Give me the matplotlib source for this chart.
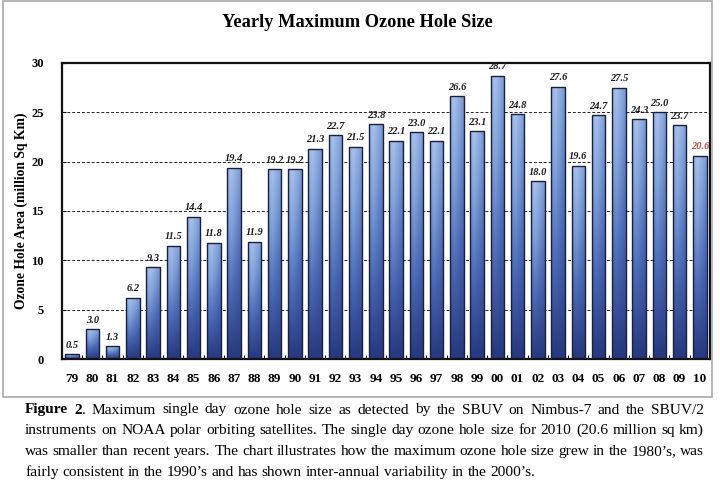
"""
Yearly maximum ozone hole size, SBUV bar chart with caption.
"""
import numpy as np
import matplotlib
matplotlib.use('Agg')
import matplotlib.pyplot as plt
from matplotlib.patches import Rectangle
from matplotlib.colors import LinearSegmentedColormap

# Data
years = ['79', '80', '81', '82', '83', '84', '85', '86', '87', '88', '89',
         '90', '91', '92', '93', '94', '95', '96', '97', '98', '99', '00',
         '01', '02', '03', '04', '05', '06', '07', '08', '09', '10']
area = [0.5, 3.0, 1.3, 6.2, 9.3, 11.5, 14.4, 11.8, 19.4, 11.9, 19.2,
        19.2, 21.3, 22.7, 21.5, 23.8, 22.1, 23.0, 22.1, 26.6, 23.1, 28.7,
        24.8, 18.0, 27.6, 19.6, 24.7, 27.5, 24.3, 25.0, 23.7, 20.6]
y_ticks = [0, 5, 10, 15, 20, 25, 30]

caption_lines = [
    'Figure 2. Maximum single day ozone hole size as detected by the SBUV on Nimbus-7 and the SBUV/2',
    'instruments on NOAA polar orbiting satellites.  The single day ozone hole size for 2010 (20.6 million sq km)',
    'was smaller than recent years. The chart illustrates how the maximum ozone hole size grew in the 1980\u2019s, was',
    'fairly consistent in the 1990\u2019s and has shown inter-annual variability in the 2000\u2019s.',
]
caption_bold = 'Figure 2'

SERIF = 'Liberation Serif'
plt.rcParams['font.family'] = SERIF

fig = plt.figure(figsize=(7.2, 4.8), dpi=100, facecolor='white')

# gray frame around the chart part
fig.patches.append(Rectangle((3 / 720, 83 / 480), 709 / 720, 396 / 480,
                             transform=fig.transFigure, fill=False,
                             edgecolor='#a8a8a8', lw=1.2))

ax = fig.add_axes([0.0861, 0.252, 0.9, 0.617])

x = np.arange(len(years))
bars = ax.bar(x, area, width=0.66, color='none', edgecolor='#1a1f3a',
              lw=1.0, zorder=3)

# gradient fill: light top -> dark bottom, darker toward the right edge
cmap = LinearSegmentedColormap.from_list(
    'ozone', ['#27397f', '#4a68b4', '#7e9fd8', '#a9c1ea'])
vert = np.linspace(0, 1, 64)[:, None]
horiz = np.concatenate([np.linspace(0.85, 1.0, 20), np.linspace(1.0, 0.6, 44)])[None, :]
grad = vert * horiz
for b in bars:
    x0, y0 = b.get_x(), b.get_y()
    w, h = b.get_width(), b.get_height()
    im = ax.imshow(grad, cmap=cmap, vmin=0, vmax=1, origin='lower',
                   extent=[x0, x0 + w, y0, y0 + h], aspect='auto', zorder=2)
    im.set_clip_path(b)

for i, (xi, v) in enumerate(zip(x, area)):
    color = '#c0504d' if i == len(area) - 1 else '#1a1a1a'
    ax.text(xi, v + 0.45, f'{v:.1f}', ha='center', va='bottom',
            fontsize=7.5, fontweight='bold', fontstyle='italic',
            color=color, zorder=4)

ax.set_xlim(-0.5, len(years) - 0.5)
ax.set_ylim(0, 30)
ax.set_yticks(y_ticks)
ax.set_xticks(x)
ax.set_xticklabels(years)
ax.set_xticks(np.arange(-0.5, len(years), 1.0), minor=True)
ax.tick_params(axis='x', which='major', length=0, pad=10, labelsize=9.5)
ax.tick_params(axis='x', which='minor', direction='in', length=3, width=0.8)
ax.tick_params(axis='y', direction='in', length=3, width=0.8, pad=13,
               labelsize=9)
for lbl in ax.get_xticklabels() + ax.get_yticklabels():
    lbl.set_fontweight('bold')

ax.yaxis.grid(True, linestyle=(0, (3, 2)), color='#222222', lw=0.7, zorder=1)
ax.set_axisbelow(True)
for s in ax.spines.values():
    s.set_linewidth(1.6)
    s.set_color('#111111')

ax.set_ylabel('Ozone Hole Area (million Sq Km)', fontsize=9.8,
              fontweight='bold')
ax.yaxis.set_label_coords(-0.053, 0.5)
fig.text(0.497, 0.953, 'Yearly Maximum Ozone Hole Size',
         ha='center', va='center', fontsize=13.2, fontweight='bold')

# caption, justified between left and right margins (last line ragged)
renderer = fig.canvas.get_renderer()
LEFT, RIGHT, FS = 25, 704, 11.1


def _width(s, weight):
    t = fig.text(0, 0, s, fontsize=FS, fontweight=weight)
    w = t.get_window_extent(renderer).width
    t.remove()
    return w


for k, line in enumerate(caption_lines):
    ypix = 480 - (410 + 20.7 * k)
    words = line.split()
    # pieces per word: list of (text, weight)
    pieces = []
    rest = line
    for wd in words:
        if k == 0 and line.startswith(caption_bold) and wd in caption_bold.split():
            if wd == caption_bold.split()[-1]:
                pieces.append([(wd, 'bold')])
            else:
                pieces.append([(wd, 'bold')])
        elif k == 0 and wd.startswith(caption_bold.split()[-1]) and len(pieces) == 1:
            head = caption_bold.split()[-1]
            pieces.append([(head, 'bold'), (wd[len(head):], 'normal')])
        else:
            pieces.append([(wd, 'normal')])
    widths = [[_width(s, wt) for s, wt in p] for p in pieces]
    total = sum(sum(w) for w in widths)
    last = k == len(caption_lines) - 1
    gap = _width('a a', 'normal') - 2 * _width('a', 'normal')
    if not last:
        gap = (RIGHT - LEFT - total) / (len(pieces) - 1)
    xpos = LEFT
    for p, ws in zip(pieces, widths):
        xx = xpos
        for (s, wt), w in zip(p, ws):
            fig.text(xx / 720, ypix / 480, s, fontsize=FS, fontweight=wt,
                     va='center', ha='left')
            xx += w
        xpos += sum(ws) + gap

fig.savefig('out.png', dpi=100, facecolor='white')
